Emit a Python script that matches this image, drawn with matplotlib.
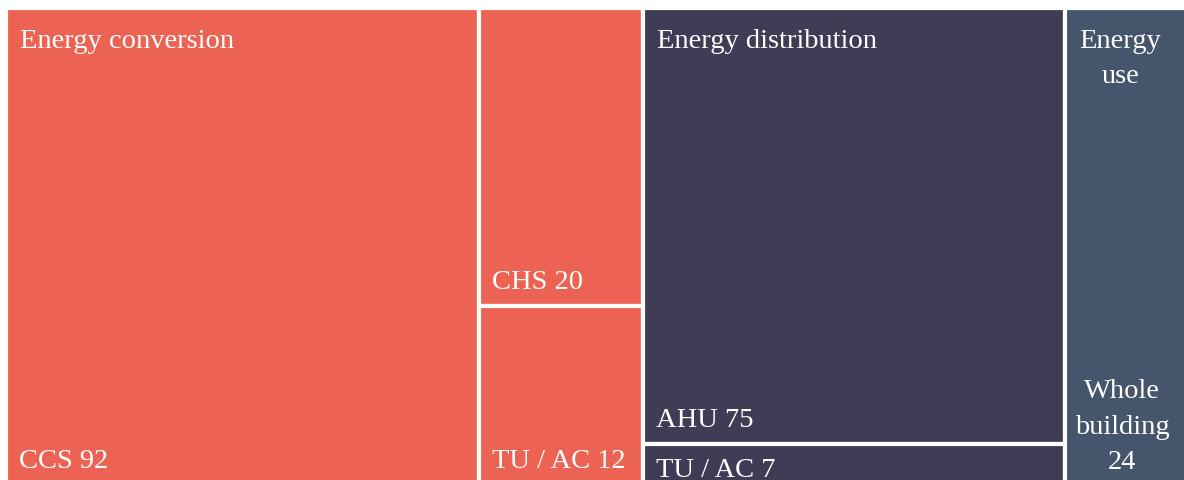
import matplotlib
matplotlib.use("Agg")
import matplotlib.pyplot as plt
from matplotlib.patches import Rectangle

plt.rcParams['font.family'] = ['Liberation Serif', 'DejaVu Serif']

groups = ["Energy conversion", "Energy distribution", "Energy use"]
group_colors = ["#ED6353", "#3F3D56", "#45566C"]
leaf_names = [
    ["CCS", "CHS", "TU / AC"],
    ["AHU", "TU / AC"],
    ["Whole building"],
]
leaf_values = [
    [92, 20, 12],
    [75, 7],
    [24],
]

# plotting area in pixels (runs a little past the bottom edge)
W, H = 1182.0, 477.0
PX = 72 / 100  # points per pixel


def worst(row, side):
    s = sum(row)
    return max(max(side * side * r / (s * s), s * s / (side * side * r)) for r in row)


def layout_row(row, x, y, w, h):
    s = sum(row)
    rects = []
    if w >= h:
        # column on the left, stacked top to bottom
        cw = s / h
        yy = y + h
        for r in row:
            rh = r / cw
            rects.append((x, yy - rh, cw, rh))
            yy -= rh
        return rects, (x + cw, y, w - cw, h)
    rh = s / w
    xx = x
    for r in row:
        rw = r / rh
        rects.append((xx, y + h - rh, rw, rh))
        xx += rw
    return rects, (x, y, w, h - rh)


def squarify(values, x, y, w, h):
    total = sum(values)
    areas = [v * w * h / total for v in values]
    rects = []
    box = (x, y, w, h)
    row = []
    i = 0
    while i < len(areas):
        side = min(box[2], box[3])
        if not row or worst(row + [areas[i]], side) <= worst(row, side):
            row.append(areas[i])
            i += 1
        else:
            r, box = layout_row(row, *box)
            rects += r
            row = []
    if row:
        r, box = layout_row(row, *box)
        rects += r
    return rects


fig = plt.figure(figsize=(11.84, 4.81), dpi=100)
ax = fig.add_axes([6 / 1184, -5 / 481, W / 1184, H / 481])
ax.set_xlim(0, W)
ax.set_ylim(0, H)
ax.axis("off")

fs = 20.5
txt = dict(color="white", fontsize=fs, textcoords="offset points",
           va="baseline", annotation_clip=False)

group_rects = squarify([sum(v) for v in leaf_values], 0, 0, W, H)
for g, (gx, gy, gw, gh) in enumerate(group_rects):
    col = group_colors[g]
    leaves = squarify(leaf_values[g], gx, gy, gw, gh)
    narrow = gw < 150
    for (lx, ly, lw, lh), name, val in zip(leaves, leaf_names[g], leaf_values[g]):
        ax.add_patch(Rectangle((lx, ly), lw, lh, facecolor=col,
                               edgecolor="white", linewidth=3))
        if narrow:
            # wrapped label, last line sits at the bottom
            ax.annotate(name.replace(" ", "\n") + f"\n{val}", (lx + lw / 2, ly),
                        xytext=(-4 * PX, 17 * PX), ha="center",
                        linespacing=1.55, **txt)
        elif lh > 60:
            ax.annotate(f"{name} {val}", (lx, ly), xytext=(13 * PX, 18 * PX),
                        ha="left", **txt)
        else:
            ax.annotate(f"{name} {val}", (lx, ly + lh), xytext=(13 * PX, -32 * PX),
                        ha="left", **txt)
    if narrow:
        ax.annotate(groups[g].replace(" ", "\n"), (gx + gw / 2, gy + gh),
                    xytext=(-6 * PX, -74 * PX), ha="center",
                    linespacing=1.55, **txt)
    else:
        ax.annotate(groups[g], (gx, gy + gh), xytext=(14 * PX, -39 * PX),
                    ha="left", **txt)

fig.savefig("out.png", dpi=100)
